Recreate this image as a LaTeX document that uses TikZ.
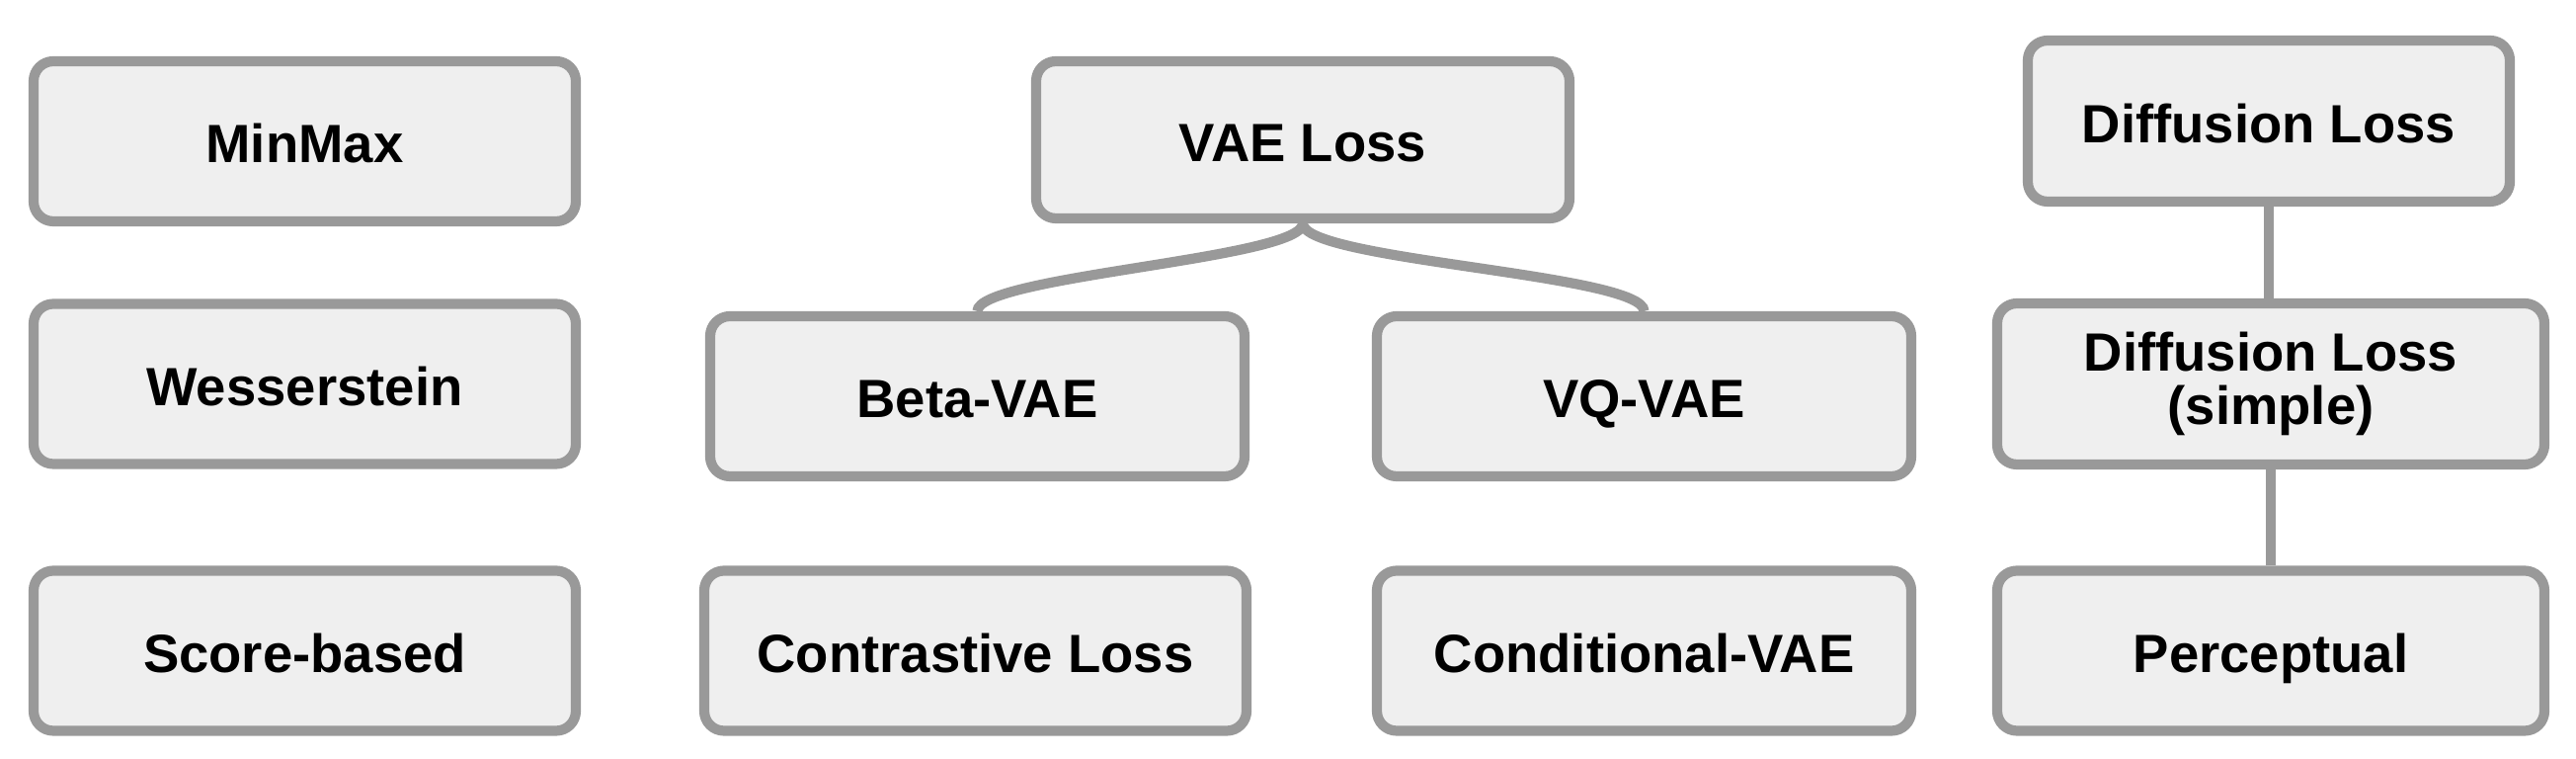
\documentclass[tikz,border=0pt]{standalone}
\usepackage{fontspec}
\setmainfont{Liberation Sans}
\usepackage{tikz}
\usetikzlibrary{positioning,calc}

\definecolor{boxfill}{HTML}{EFEFEF}
\definecolor{boxline}{HTML}{999999}

\begin{document}
\begin{tikzpicture}[
    loss/.style={rectangle, rounded corners=0.2cm, draw=boxline, line width=2.9pt, fill=boxfill, minimum width=5.45cm, minimum height=1.62cm, align=center, inner sep=0pt, text height=15pt, text depth=2.5pt, font=\fontsize{15.5}{15.5}\selectfont\bfseries},
    link/.style={draw=boxline, line width=2.9pt}
]
\useasboundingbox (0,0) rectangle (26.08,7.68);

% GAN losses
\node[loss, minimum width=5.49cm] (minmax) at (3.085, 6.25) {MinMax};
\node[loss, minimum width=5.49cm] (wass) at (3.085, 3.795) {Wesserstein};
\node[loss, minimum width=5.49cm] (score) at (3.085, 1.095) {Score-based};

% VAE losses
\node[loss, minimum width=5.40cm, minimum height=1.59cm] (vae) at (13.19, 6.265) {VAE Loss};
\node[loss, minimum width=5.41cm] (beta) at (9.895, 3.67) {Beta-VAE};
\node[loss, minimum width=5.41cm] (vq) at (16.645, 3.67) {VQ-VAE};
\node[loss, minimum width=5.49cm] (contrast) at (9.875, 1.095) {Contrastive Loss};
\node[loss, minimum width=5.41cm] (cvae) at (16.645, 1.095) {Conditional-VAE};

% Diffusion losses
\node[loss, minimum width=4.88cm, minimum height=1.63cm] (diff) at (22.97, 6.455) {Diffusion Loss};
\node[loss, minimum width=5.54cm, minimum height=1.63cm, text height=, text depth=] (diffs) at (22.99, 3.795) {Diffusion Loss\\(simple)};
\node[loss, minimum width=5.54cm] (percep) at (22.99, 1.095) {Perceptual};

% Connectors
\draw[link] (vae.south) to[out=-90, in=90, looseness=0.27] (beta.north);
\draw[link] (vae.south) to[out=-90, in=90, looseness=0.27] (vq.north);
\draw[link] (diff.south) -- (diff.south |- diffs.north);
\draw[link] (diffs.south) -- (diffs.south |- percep.north);

\end{tikzpicture}
\end{document}
